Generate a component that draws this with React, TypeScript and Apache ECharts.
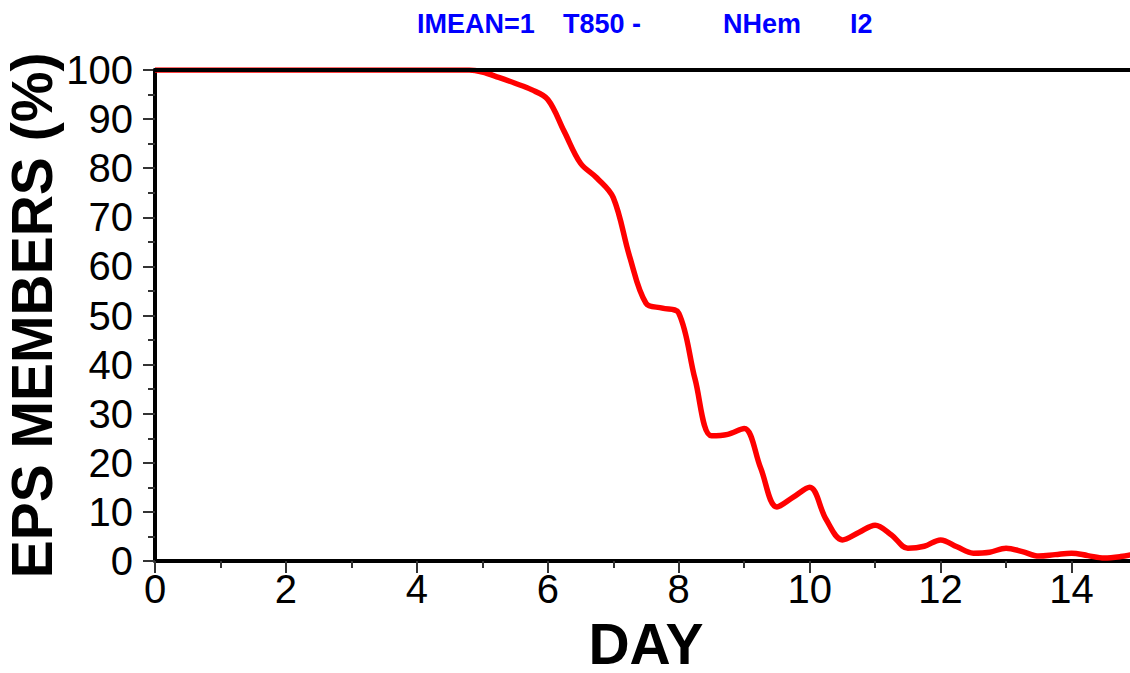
import React, { useEffect, useRef } from "react";
import * as echarts from "echarts";

const days = [0, 0.5, 1, 1.5, 2, 2.5, 3, 3.5, 4, 4.5, 4.8, 5.0, 5.25, 5.5, 5.75, 6.0, 6.25, 6.5, 6.75, 7.0, 7.25, 7.5, 7.75, 8.0, 8.25, 8.5, 8.75, 9.0, 9.25, 9.5, 9.75, 10.0, 10.25, 10.5, 10.75, 11.0, 11.25, 11.5, 11.75, 12.0, 12.25, 12.5, 12.75, 13.0, 13.25, 13.5, 13.75, 14.0, 14.25, 14.5, 14.75, 15.0];
const members = [100, 100, 100, 100, 100, 100, 100, 100, 100, 100, 100, 99.6, 98.5, 97.3, 96, 94, 87.5, 81, 78, 74, 62, 52.5, 51.5, 50.5, 37, 25.5, 25.8, 27, 19, 11, 13, 15, 8.5, 4.3, 5.8, 7.3, 5.3, 2.6, 3, 4.3, 2.9, 1.6, 1.8, 2.6, 1.9, 1.0, 1.3, 1.6, 1.1, 0.6, 0.9, 1.5];
const titleParts = ["IMEAN=1", "T850 -", "NHem", "I2"];
const titleX = [417, 563, 723, 850];

export default function App() {
  const ref = useRef<HTMLDivElement>(null);
  useEffect(() => {
    if (!ref.current) return;
    const chart = echarts.init(ref.current, undefined, { renderer: "svg" });
    const font = "'Liberation Sans', Arial, sans-serif";
    chart.setOption({
      animation: false,
      backgroundColor: "#ffffff",
      grid: { left: 155, right: -7, top: 70, bottom: 112, containLabel: false, outerBoundsMode: "none" },
      graphic: titleParts.map((t, i) => ({
        type: "text",
        left: titleX[i],
        top: 10,
        style: { text: t, fill: "#0000ff", font: `bold 27px ${font}` },
      })),
      xAxis: [
        {
          type: "value",
          min: 0,
          max: 15,
          interval: 2,
          name: "DAY",
          nameLocation: "middle",
          nameGap: 60,
          nameMoveOverlap: false,
          nameTextStyle: { fontFamily: font, fontWeight: "bold", fontSize: 57, color: "#000", lineHeight: 46 },
          axisLine: { show: true, onZero: false, lineStyle: { color: "#000", width: 4 } },
          axisTick: { show: true, length: 12, lineStyle: { color: "#333", width: 2 } },
          minorTick: { show: true, splitNumber: 2, length: 7, lineStyle: { color: "#333", width: 2 } },
          axisLabel: { fontFamily: font, fontSize: 40, color: "#000", margin: 8, showMaxLabel: false },
          splitLine: { show: false },
        },
        {
          type: "value",
          position: "top",
          min: 0,
          max: 15,
          axisLine: { show: true, onZero: false, lineStyle: { color: "#000", width: 4 } },
          axisTick: { show: false },
          axisLabel: { show: false },
          splitLine: { show: false },
          z: 10,
        },
      ],
      yAxis: {
        type: "value",
        min: 0,
        max: 100,
        interval: 10,
        name: "EPS MEMBERS (%)",
        nameLocation: "middle",
        nameGap: 100,
        nameMoveOverlap: false,
        nameTextStyle: { fontFamily: font, fontWeight: "bold", fontSize: 57, color: "#000", lineHeight: 46 },
        axisLine: { show: true, onZero: false, lineStyle: { color: "#000", width: 4 } },
        axisTick: { show: true, length: 12, lineStyle: { color: "#333", width: 2 } },
        minorTick: { show: true, splitNumber: 2, length: 7, lineStyle: { color: "#333", width: 2 } },
        axisLabel: { fontFamily: font, fontSize: 40, color: "#000", margin: 22 },
        splitLine: { show: false },
      },
      series: [
        {
          type: "line",
          data: days.map((d, i) => [d, members[i]]),
          smooth: 0.35,
          showSymbol: false,
          lineStyle: { color: "#ff0000", width: 5.5 },
          z: 5,
        },
      ],
    });
    return () => chart.dispose();
  }, []);
  return (
    <div
      ref={ref}
      style={{ position: "fixed", left: 0, top: 0, width: 1130, height: 673, overflow: "hidden", background: "#fff" }}
    />
  );
}
